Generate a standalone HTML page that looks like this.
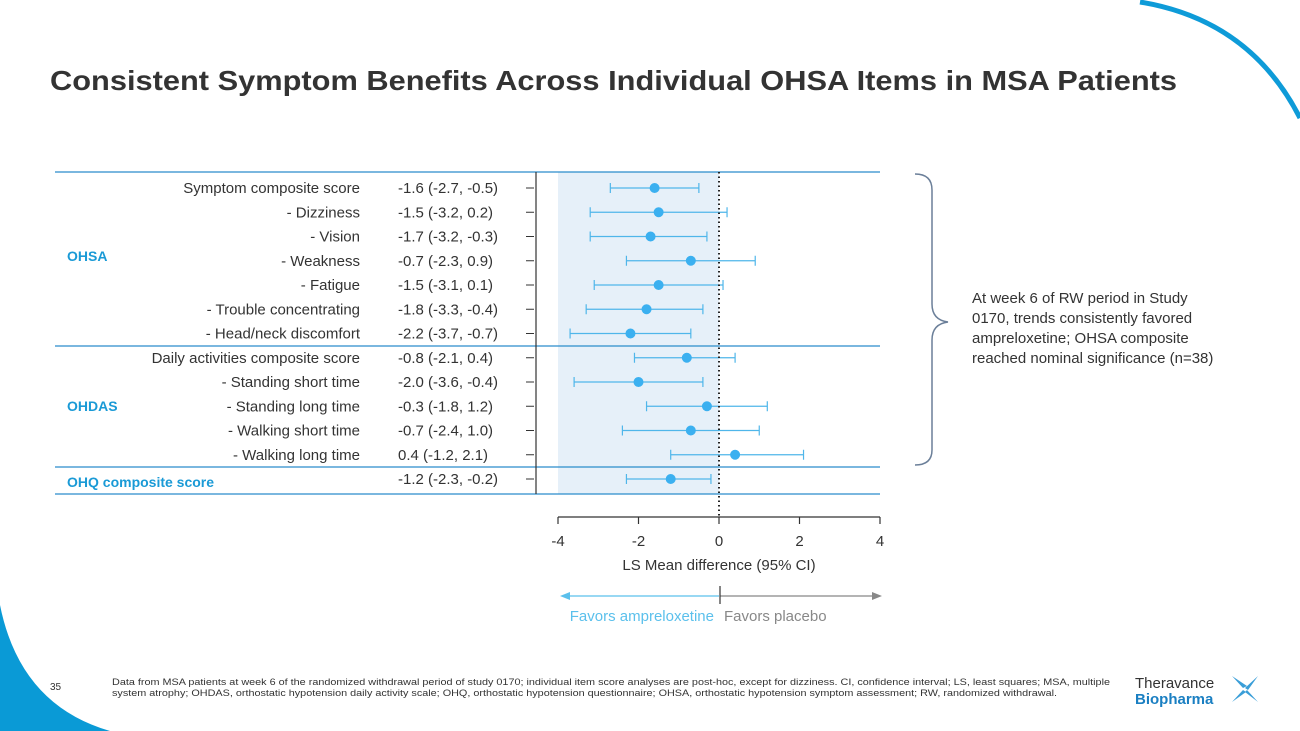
<!DOCTYPE html>
<html><head><meta charset="utf-8"><style>
html,body{margin:0;padding:0;}
body{width:1300px;height:731px;position:relative;overflow:hidden;background:#fff;font-family:"Liberation Sans",sans-serif;}
svg{position:absolute;left:0;top:0;}
</style></head><body>
<svg id="c" width="1300" height="731" viewBox="0 0 1300 731">
<path d="M1140 2 Q1250 20 1300 118" fill="none" stroke="#0e9bd8" stroke-width="5"/>
<path d="M0 605 Q20 705 110 731 L0 731 Z" fill="#0a9ad6"/>
<text x="50" y="90" font-size="28" font-weight="bold" fill="#333" textLength="1127" lengthAdjust="spacingAndGlyphs">Consistent Symptom Benefits Across Individual OHSA Items in MSA Patients</text>
<rect x="558" y="172" width="161" height="322" fill="#e6f0f9"/>
<g id="grid"></g>
<g id="rows"></g>
<line x1="536" y1="172" x2="536" y2="494" stroke="#333" stroke-width="1.2"/>
<line x1="719" y1="172" x2="719" y2="518" stroke="#222" stroke-width="2" stroke-dasharray="1.5,3"/>
<g id="axis"></g>
<text x="719" y="570" font-size="15" fill="#333" text-anchor="middle">LS Mean difference (95% CI)</text>
<line x1="565" y1="596" x2="719" y2="596" stroke="#5bc0ec" stroke-width="1.2"/>
<path d="M560 596 L570 592 L570 600 Z" fill="#5bc0ec"/>
<line x1="720" y1="596" x2="876" y2="596" stroke="#888" stroke-width="1.2"/>
<path d="M882 596 L872 592 L872 600 Z" fill="#888"/>
<line x1="720" y1="586" x2="720" y2="604" stroke="#333" stroke-width="1.2"/>
<text x="714" y="621" font-size="15" fill="#5bc0ec" text-anchor="end">Favors ampreloxetine</text>
<text x="724" y="621" font-size="15" fill="#888">Favors placebo</text>
<path d="M915 174 Q932 174 932 190 L932 304 Q932 320 948 322 Q932 324 932 340 L932 450 Q932 465 915 465" fill="none" stroke="#6b7f99" stroke-width="1.5"/>
<text font-size="15" fill="#333"><tspan x="972" y="303">At week 6 of RW period in Study</tspan><tspan x="972" y="323">0170, trends consistently favored</tspan><tspan x="972" y="343">ampreloxetine; OHSA composite</tspan><tspan x="972" y="363">reached nominal significance (n=38)</tspan></text>
<text x="67" y="261" font-size="14" font-weight="bold" fill="#1a9ad6">OHSA</text>
<text x="67" y="411" font-size="14" font-weight="bold" fill="#1a9ad6">OHDAS</text>
<text x="67" y="487" font-size="14" font-weight="bold" fill="#1a9ad6">OHQ composite score</text>
<text x="50" y="690" font-size="10" fill="#333">35</text>
<text font-size="9" fill="#333"><tspan x="112" y="685" textLength="998" lengthAdjust="spacingAndGlyphs">Data from MSA patients at week 6 of the randomized withdrawal period of study 0170; individual item score analyses are post-hoc, except for dizziness. CI, confidence interval; LS, least squares; MSA, multiple</tspan><tspan x="112" y="696" textLength="945" lengthAdjust="spacingAndGlyphs">system atrophy; OHDAS, orthostatic hypotension daily activity scale; OHQ, orthostatic hypotension questionnaire; OHSA, orthostatic hypotension symptom assessment; RW, randomized withdrawal.</tspan></text>
<text x="1135" y="688" font-size="15" fill="#333">Theravance</text>
<text x="1135" y="704" font-size="15" font-weight="bold" fill="#1a7fc2">Biopharma</text>
<g fill="#3a9ed8"><path d="M1243 688 L1232 676 L1247 686 Z"/><path d="M1245 688 L1258 676 L1248 690 Z"/><path d="M1243 690 L1232 702 L1246 692 Z"/><path d="M1247 690 L1258 702 L1245 692 Z"/></g>
</svg>
<script>
const labels=["Symptom composite score","- Dizziness","- Vision","- Weakness","- Fatigue","- Trouble concentrating","- Head/neck discomfort","Daily activities composite score","- Standing short time","- Standing long time","- Walking short time","- Walking long time",""];
const means=[-1.6,-1.5,-1.7,-0.7,-1.5,-1.8,-2.2,-0.8,-2.0,-0.3,-0.7,0.4,-1.2];
const lows=[-2.7,-3.2,-3.2,-2.3,-3.1,-3.3,-3.7,-2.1,-3.6,-1.8,-2.4,-1.2,-2.3];
const highs=[-0.5,0.2,-0.3,0.9,0.1,-0.4,-0.7,0.4,-0.4,1.2,1.0,2.1,-0.2];
const ciText=["-1.6 (-2.7, -0.5)","-1.5 (-3.2, 0.2)","-1.7 (-3.2, -0.3)","-0.7 (-2.3, 0.9)","-1.5 (-3.1, 0.1)","-1.8 (-3.3, -0.4)","-2.2 (-3.7, -0.7)","-0.8 (-2.1, 0.4)","-2.0 (-3.6, -0.4)","-0.3 (-1.8, 1.2)","-0.7 (-2.4, 1.0)","0.4 (-1.2, 2.1)","-1.2 (-2.3, -0.2)"];
const ticks=[-4,-2,0,2,4];
const sepRows=[172,346,467,494];
const NS="http://www.w3.org/2000/svg";
const x=v=>719+v*40.25;
const y=i=>188+i*24.25;
function mk(tag,attrs,parent,txt){const e=document.createElementNS(NS,tag);for(const k in attrs)e.setAttribute(k,attrs[k]);if(txt!==undefined)e.textContent=txt;parent.appendChild(e);return e;}
const grid=document.getElementById('grid'),rows=document.getElementById('rows'),axis=document.getElementById('axis');
sepRows.forEach(yy=>{const l=mk('line',{x1:55,x2:880,y1:yy,y2:yy,stroke:'#2a8ccc','stroke-width':1.2},grid);

});
means.forEach((m,i)=>{
 const yy=y(i);
 const g=mk('g',{},rows);
 
 
 if(labels[i]){const t=mk('text',{x:360,y:yy+5,'font-size':15,fill:'#333','text-anchor':'end'},g,labels[i]);
 
 }
 const c=mk('text',{x:398,y:yy+5,'font-size':15,fill:'#333'},g,ciText[i]);
 
 
 mk('line',{x1:526,x2:534,y1:yy,y2:yy,stroke:'#333','stroke-width':1},g);
 mk('line',{x1:x(lows[i]),x2:x(highs[i]),y1:yy,y2:yy,stroke:'#4fb6ea','stroke-width':1.2},g);
 mk('line',{x1:x(lows[i]),x2:x(lows[i]),y1:yy-5,y2:yy+5,stroke:'#4fb6ea','stroke-width':1.2},g);
 mk('line',{x1:x(highs[i]),x2:x(highs[i]),y1:yy-5,y2:yy+5,stroke:'#4fb6ea','stroke-width':1.2},g);
 const p=mk('circle',{cx:x(m),cy:yy,r:5,fill:'#3bb0f0'},g);
 
 
});
const al=mk('line',{x1:x(-4),x2:x(4),y1:517,y2:517,stroke:'#333','stroke-width':1.2},axis);


ticks.forEach(t=>{mk('line',{x1:x(t),x2:x(t),y1:517,y2:524,stroke:'#333','stroke-width':1.2},axis);
 const tl=mk('text',{x:x(t),y:546,'font-size':15,fill:'#333','text-anchor':'middle'},axis,String(t));
 
 });
</script>
</body></html>
